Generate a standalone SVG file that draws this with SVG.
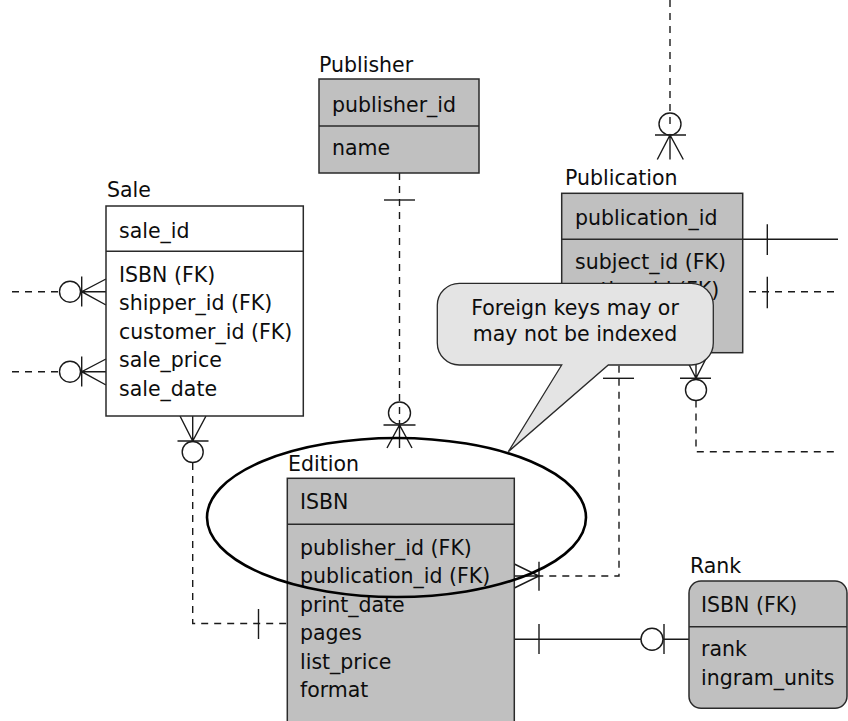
<svg xmlns="http://www.w3.org/2000/svg" width="848" height="721" viewBox="0 0 848 721">
<style>
  .t { font-family: "DejaVu Sans", "Liberation Sans", sans-serif; font-size: 20.5px; fill: #0d0d0d; }
  .tc { text-anchor: middle; }
  .box { stroke: #2a2a2a; stroke-width: 1.5; }
  .gray { fill: #c0c0c0; }
  .white { fill: #ffffff; }
  .ln { stroke: #1a1a1a; stroke-width: 1.4; fill: none; }
  .dash { stroke: #1a1a1a; stroke-width: 1.4; fill: none; stroke-dasharray: 7 6; }
  .circ { stroke: #1a1a1a; stroke-width: 1.4; fill: none; }
</style>
<defs>
  <clipPath id="above-callout"><rect x="560" y="260" width="190" height="23.3"/></clipPath>
</defs>
<rect width="848" height="721" fill="#ffffff"/>
<g id="connectors">
  <!-- Publisher to Edition -->
  <path class="dash" d="M399.5 173 V424"/>
  <path class="ln" d="M384 200 H415"/>
  <circle class="circ" cx="399.5" cy="413" r="11"/>
  <path class="ln" d="M383.5 425 H415.5 M387 448 L399.5 425 L412 448 M399.5 425 V448"/>
  <!-- Sale to Edition -->
  <path class="ln" d="M180 416 L192.7 441 L206 416 M192.7 416 V441 M177.5 441 H208.5"/>
  <circle class="circ" cx="192.7" cy="452" r="10.5"/>
  <path class="dash" d="M192.7 463 V623.5 H287"/>
  <path class="ln" d="M258.5 609 V639"/>
  <!-- Sale left connectors -->
  <path class="dash" d="M12 291.7 H59.5"/>
  <circle class="circ" cx="70" cy="291.7" r="10.5"/>
  <path class="ln" d="M81.7 276.5 V306.5 M106 279 L81.7 291.7 L106 305 M81.7 291.7 H106"/>
  <path class="dash" d="M12 371.7 H59.5"/>
  <circle class="circ" cx="70" cy="371.7" r="10.5"/>
  <path class="ln" d="M81.7 356.5 V386.5 M106 359 L81.7 371.7 L106 385 M81.7 371.7 H106"/>
  <!-- Publication top -->
  <path class="dash" d="M670 0 V124"/>
  <circle class="circ" cx="670" cy="124" r="11"/>
  <path class="ln" d="M655 135 H686 M657.3 159.5 L670 135 L683.3 159.5 M670 135 V159.5"/>
  <!-- Publication right -->
  <path class="ln" d="M742.7 239.3 H838 M767.3 224.3 V255"/>
  <path class="dash" d="M749 291.7 H838"/>
  <path class="ln" d="M767.3 276.7 V308.3"/>
  <!-- Publication bottom right -->
  <path class="ln" d="M683 352.7 L696 378.3 L709 352.7 M696 352.7 V378.3 M680 378.3 H711"/>
  <circle class="circ" cx="696" cy="390" r="10.5"/>
  <path class="dash" d="M696 400.5 V451.7 H838"/>
  <!-- Publication to Edition -->
  <path class="dash" d="M619 352.7 V576 H539"/>
  <path class="ln" d="M603 378.3 H634"/>
  <path class="ln" d="M514.3 564 L539 576 L514.3 588 M514.3 576 H539 M539 561.7 V590.7"/>
  <!-- Edition to Rank -->
  <path class="ln" d="M514.3 639.3 H641 M663 639.3 H689 M539 624 V654 M664 624 V654"/>
  <circle class="circ" cx="652" cy="639.3" r="11"/>
</g>
<g id="publisher">
  <text class="t" x="319" y="72">Publisher</text>
  <rect class="box gray" x="319" y="79" width="160" height="94"/>
  <line class="box" x1="319" y1="126" x2="479" y2="126"/>
  <text class="t" x="332" y="112">publisher_id</text>
  <text class="t" x="332" y="155">name</text>
</g>
<g id="sale">
  <text class="t" x="107" y="197">Sale</text>
  <rect class="box white" x="106" y="206" width="197.3" height="210"/>
  <line class="box" x1="106" y1="251.3" x2="303.3" y2="251.3"/>
  <text class="t" x="119" y="238">sale_id</text>
  <text class="t" x="119" y="281.5">ISBN (FK)</text>
  <text class="t" x="119" y="310">shipper_id (FK)</text>
  <text class="t" x="119" y="338.5">customer_id (FK)</text>
  <text class="t" x="119" y="367">sale_price</text>
  <text class="t" x="119" y="395.5">sale_date</text>
</g>
<g id="publication">
  <text class="t" x="565" y="185">Publication</text>
  <rect class="box gray" x="561.7" y="193.3" width="181" height="159.4"/>
  <line class="box" x1="561.7" y1="239.3" x2="742.7" y2="239.3"/>
  <text class="t" x="575" y="225">publication_id</text>
  <text class="t" x="575" y="268.5">subject_id (FK)</text>
  <text class="t" x="575" y="297">author_id (FK)</text>
</g>
<g id="edition">
  <text class="t" x="288" y="471">Edition</text>
  <rect class="box gray" x="287.3" y="478.3" width="227" height="260"/>
  <line class="box" x1="287.3" y1="524.3" x2="514.3" y2="524.3"/>
  <text class="t" x="300" y="509">ISBN</text>
  <text class="t" x="300" y="554.5">publisher_id (FK)</text>
  <text class="t" x="300" y="583">publication_id (FK)</text>
  <text class="t" x="300" y="611.5">print_date</text>
  <text class="t" x="300" y="640">pages</text>
  <text class="t" x="300" y="668.5">list_price</text>
  <text class="t" x="300" y="697">format</text>
</g>
<g id="rank">
  <text class="t" x="690" y="573">Rank</text>
  <rect class="box gray" x="689" y="581" width="158" height="127.3" rx="12"/>
  <line class="box" x1="689" y1="626.7" x2="847" y2="626.7"/>
  <text class="t" x="701" y="612">ISBN (FK)</text>
  <text class="t" x="701" y="656">rank</text>
  <text class="t" x="701" y="685">ingram_units</text>
</g>
<g id="highlight">
  <ellipse cx="396.5" cy="517.5" rx="189.5" ry="79.5" fill="none" stroke="#000000" stroke-width="2.6"/>
</g>
<g id="callout">
  <path d="M459.3 283.3 H691.3 A22 22 0 0 1 713.3 305.3 V343 A22 22 0 0 1 691.3 365 H608.3 L508.3 451.7 L561.7 365 H459.3 A22 22 0 0 1 437.3 343 V305.3 A22 22 0 0 1 459.3 283.3 Z" fill="#e4e4e4" stroke="#2a2a2a" stroke-width="1.3"/>
  <text class="t tc" x="575" y="315">Foreign keys may or</text>
  <text class="t tc" x="575" y="341">may not be indexed</text>
</g>
</svg>
